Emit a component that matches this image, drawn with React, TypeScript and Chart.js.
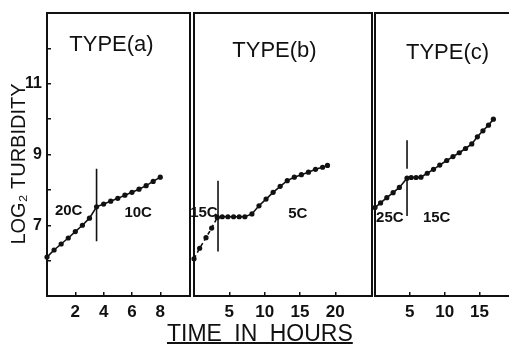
import React, { useEffect, useRef } from "react";
import { Chart, registerables } from "chart.js";
Chart.register(...registerables);

// ---------- data ----------
const hoursA = [0, 0.5, 1, 1.5, 2, 2.5, 3, 3.5, 4, 4.5, 5, 5.5, 6, 6.5, 7, 7.5, 8];
const turbA = [6.1, 6.3, 6.47, 6.64, 6.82, 7.0, 7.2, 7.52, 7.6, 7.68, 7.76, 7.85, 7.93, 8.02, 8.12, 8.24, 8.36];

const hoursB = [0, 0.8, 1.7, 2.5, 3.3, 4.0, 4.8, 5.6, 6.4, 7.2, 8.2, 9.2, 10.2, 11.2, 12.2, 13.2, 14.2, 15.2, 16.2, 17.2, 18.2, 18.9];
const turbB = [6.05, 6.35, 6.65, 6.92, 7.22, 7.24, 7.24, 7.24, 7.24, 7.24, 7.32, 7.55, 7.74, 7.93, 8.1, 8.26, 8.36, 8.43, 8.5, 8.58, 8.64, 8.69];

const hoursC = [0, 0.8, 1.7, 2.6, 3.5, 4.6, 5.2, 5.9, 6.6, 7.5, 8.4, 9.3, 10.3, 11.2, 12.1, 13.0, 13.9, 14.7, 15.5, 16.3, 17.0];
const turbC = [7.5, 7.63, 7.78, 7.92, 8.07, 8.33, 8.35, 8.35, 8.36, 8.47, 8.58, 8.7, 8.83, 8.94, 9.05, 9.17, 9.3, 9.5, 9.67, 9.83, 10.0];

// temperature shift markers (x in hours, y in log2 turbidity)
const shiftAx = [3.5, 3.5];
const shiftAy = [8.6, 6.55];
const shiftBx = [3.4, 3.4];
const shiftBy = [8.26, 6.26];
const shiftCUpperX = [4.6, 4.6];
const shiftCUpperY = [9.4, 8.6];
const shiftCLowerX = [4.6, 4.6];
const shiftCLowerY = [8.35, 7.26];

const xTicksA = [2, 4, 6, 8];
const xTicksB = [5, 10, 15, 20];
const xTicksC = [5, 10, 15];
const yTickMarks = [6, 7, 8, 9, 10, 11, 12];
const yTickLabels = [7, 9, 11];

const titles = ["TYPE(a)", "TYPE(b)", "TYPE(c)"];
const tempLabelsA = ["20C", "10C"];
const tempLabelsB = ["15C", "5C"];
const tempLabelsC = ["25C", "15C"];
const tempPosA = [[1.53, 7.4], [6.44, 7.35]];
const tempPosB = [[1.4, 7.35], [14.7, 7.31]];
const tempPosC = [[2.13, 7.21], [8.86, 7.21]];

const Y_TITLE = "LOG\u2082 TURBIDITY";
const X_TITLE = "TIME IN HOURS";

const INK = "#111";
const FONT = "'Liberation Sans', Arial, sans-serif";

const pts = (xs: number[], ys: number[]) => xs.map((x, i) => ({ x, y: ys[i] }));

type PanelDef = {
  left: number;
  width: number;
  padding: { top: number; left: number; right: number; bottom: number };
  xMax: number;
  xTicks: number[];
  showY: boolean;
  data: { x: number; y: number }[];
  dashedUpTo: number;
  shifts: { x: number; y: number }[][];
  labels: string[];
  labelPos: number[][];
  title: string;
  titleX: number;
  titleY: number;
  rightEdge: boolean;
};

const panels: PanelDef[] = [
  {
    left: 0, width: 194, padding: { top: 13, left: 0, right: 2, bottom: 0 },
    xMax: 10.1, xTicks: xTicksA, showY: true, data: pts(hoursA, turbA), dashedUpTo: -1,
    shifts: [pts(shiftAx, shiftAy)], labels: tempLabelsA, labelPos: tempPosA,
    title: titles[0], titleX: 111.5, titleY: 45, rightEdge: true,
  },
  {
    left: 190, width: 186, padding: { top: 13, left: 2, right: 3, bottom: 0 },
    xMax: 25.2, xTicks: xTicksB, showY: false, data: pts(hoursB, turbB), dashedUpTo: 4,
    shifts: [pts(shiftBx, shiftBy)], labels: tempLabelsB, labelPos: tempPosB,
    title: titles[1], titleX: 84.5, titleY: 51, rightEdge: true,
  },
  {
    left: 371, width: 141, padding: { top: 13, left: 2, right: 0, bottom: 0 },
    xMax: 19.1, xTicks: xTicksC, showY: false, data: pts(hoursC, turbC), dashedUpTo: -1,
    shifts: [pts(shiftCUpperX, shiftCUpperY), pts(shiftCLowerX, shiftCLowerY)], labels: tempLabelsC, labelPos: tempPosC,
    title: titles[2], titleX: 76.5, titleY: 53, rightEdge: false,
  },
];

function makeConfig(p: PanelDef): any {
  const decor = {
    id: "decor",
    afterDraw(chart: any) {
      const { ctx, chartArea: a, scales } = chart;
      ctx.save();
      ctx.fillStyle = INK;
      // panel title
      ctx.font = `22px ${FONT}`;
      ctx.textAlign = "center";
      ctx.textBaseline = "middle";
      ctx.fillText(p.title, p.titleX, p.titleY);
      // temperature labels
      ctx.font = `bold 15px ${FONT}`;
      p.labels.forEach((t, i) => {
        const [hx, hy] = p.labelPos[i];
        ctx.fillText(t, scales.x.getPixelForValue(hx), scales.y.getPixelForValue(hy));
      });
      // y axis title
      if (p.showY) {
        ctx.save();
        ctx.translate(19, 164);
        ctx.rotate(-Math.PI / 2);
        ctx.font = `20px ${FONT}`;
        ctx.fillText(Y_TITLE, 0, 0);
        ctx.restore();
      }
      // frame
      ctx.strokeStyle = INK;
      ctx.lineWidth = 2;
      ctx.beginPath();
      ctx.moveTo(a.left, a.bottom);
      ctx.lineTo(a.left, a.top);
      ctx.lineTo(a.right + 1, a.top);
      ctx.moveTo(a.left - 1, a.bottom);
      ctx.lineTo(a.right + 1, a.bottom);
      if (p.rightEdge) {
        ctx.moveTo(a.right, a.top);
        ctx.lineTo(a.right, a.bottom);
      }
      ctx.stroke();
      ctx.restore();
    },
  };

  const datasets: any[] = [
    {
      data: p.data,
      borderColor: INK,
      backgroundColor: INK,
      borderWidth: 1.6,
      pointRadius: 2.6,
      pointBorderWidth: 0,
      pointBackgroundColor: INK,
      tension: 0,
      clip: false,
      segment: {
        borderDash: (ctx: any) => (ctx.p1DataIndex <= p.dashedUpTo ? [4, 3] : undefined),
      },
    },
    ...p.shifts.map((s) => ({
      data: s,
      borderColor: INK,
      borderWidth: 1.6,
      pointRadius: 0,
      tension: 0,
      clip: false,
    })),
  ];

  return {
    type: "line",
    data: { datasets },
    plugins: [decor],
    options: {
      animation: false,
      responsive: false,
      devicePixelRatio: 1,
      events: [],
      layout: { padding: p.padding },
      plugins: { legend: { display: false }, tooltip: { enabled: false }, title: { display: false } },
      scales: {
        x: {
          type: "linear",
          min: 0,
          max: p.xMax,
          afterBuildTicks: (s: any) => {
            s.ticks = p.xTicks.map((v) => ({ value: v }));
          },
          afterFit: (s: any) => {
            s.height = 50;
            s.paddingLeft = 0;
            s.paddingRight = 0;
          },
          border: { display: false },
          grid: { drawOnChartArea: false, tickLength: -4, color: INK, lineWidth: 1.5 },
          ticks: {
            color: INK,
            padding: 10,
            autoSkip: false,
            maxRotation: 0,
            font: { family: FONT, size: 17, weight: "bold" },
            callback: (v: any) => String(v),
          },
        },
        y: {
          type: "linear",
          display: p.showY,
          min: 5,
          max: 13,
          afterBuildTicks: (s: any) => {
            s.ticks = yTickMarks.map((v) => ({ value: v }));
          },
          afterFit: (s: any) => {
            s.width = p.showY ? 47 : 0;
            s.paddingTop = 0;
            s.paddingBottom = 0;
          },
          border: { display: false },
          grid: { drawOnChartArea: false, tickLength: -4, color: INK, lineWidth: 1.5 },
          ticks: {
            color: INK,
            padding: 9,
            font: { family: FONT, size: 16, weight: "bold" },
            callback: (v: any) => (yTickLabels.includes(v) ? String(v) : ""),
          },
        },
      },
    },
  };
}

function Panel({ p }: { p: PanelDef }) {
  const ref = useRef<HTMLCanvasElement | null>(null);
  useEffect(() => {
    if (!ref.current) return;
    const chart = new Chart(ref.current, makeConfig(p));
    return () => chart.destroy();
  }, [p]);
  return (
    <canvas
      ref={ref}
      width={p.width}
      height={346}
      style={{ position: "absolute", left: p.left, top: 0, width: p.width, height: 346 }}
    />
  );
}

export default function App() {
  return (
    <div style={{ position: "absolute", left: 0, top: 0, width: 512, height: 346, background: "#fff", overflow: "hidden" }}>
      {panels.map((p, i) => (
        <Panel key={i} p={p} />
      ))}
      <div
        style={{
          position: "absolute",
          left: 167,
          top: 322,
          fontFamily: FONT,
          fontSize: 23,
          lineHeight: "23px",
          color: INK,
          wordSpacing: 6,
          textDecoration: "underline",
          textDecorationThickness: 2,
          whiteSpace: "nowrap",
        }}
      >
        {X_TITLE}
      </div>
    </div>
  );
}
